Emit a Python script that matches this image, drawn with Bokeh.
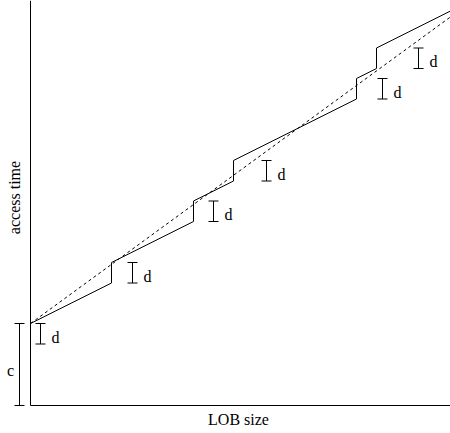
import numpy as np
from bokeh.plotting import figure
from bokeh.models import Range1d, ColumnDataSource, Whisker, TeeHead, FixedTicker
from bokeh.core.properties import value
from bokeh.embed import file_html
from bokeh.resources import INLINE

# ---- data (arbitrary units) ----
lob_max = 420.0          # largest LOB size shown
c = 82.0                 # fixed cost (intercept)
d = 20.5                 # step height
slope_solid = 0.5        # slope of the stepped (solid) curve
slope_dashed = 0.73      # slope of the linear (dashed) approximation
steps = [0, 81, 163, 203, 326, 346]          # LOB sizes where a step of d occurs
d_marker_x = [10, 102, 183, 236, 352, 388]   # where the "d" brackets are drawn
x_label = "LOB size"
y_label = "access time"

# ---- derived geometry ----
def before_step(k):
    return (c - d) + slope_solid * steps[k] + d * k

sx, sy = [0.0], [c]
for k in range(1, len(steps)):
    b = before_step(k)
    sx += [steps[k], steps[k]]
    sy += [b, b + d]
sx.append(lob_max)
sy.append((c - d) + slope_solid * lob_max + d * len(steps))

dx = [0.0, lob_max]
dy = [c, c + slope_dashed * lob_max]

lows = [before_step(k) for k in range(len(steps))]
highs = [v + d for v in lows]

FONT = value("Liberation Serif")

p = figure(width=450, height=433, x_range=Range1d(-30, lob_max), y_range=Range1d(-28, 405),
           output_backend="svg", toolbar_location=None, min_border=0,
           outline_line_color=None, background_fill_color="white")
p.grid.visible = False

for ax, b in ((p.xaxis, (0, lob_max)), (p.yaxis, (0, 405))):
    ax.fixed_location = 0
    ax.bounds = b
    ax.ticker = FixedTicker(ticks=[])
    ax.major_tick_out = 0
    ax.major_tick_in = 0
    ax.minor_tick_out = 0
    ax.minor_tick_in = 0
    ax.major_label_standoff = 0
    ax.axis_line_color = "black"
    ax.axis_line_width = 1

# stepped cost curve and linear approximation
p.line(sx, sy, line_color="black", line_width=1)
p.line(dx, dy, line_color="black", line_width=1, line_dash="3 3")

# d brackets
src = ColumnDataSource(dict(x=d_marker_x, lo=lows, hi=highs,
                            ty=[l + 0.33 * d for l in lows],
                            tx=[x + 11 for x in d_marker_x],
                            t=["d"] * len(d_marker_x)))
p.add_layout(Whisker(base="x", lower="lo", upper="hi", source=src, dimension="height",
                     line_color="black", line_width=1,
                     lower_head=TeeHead(size=10, line_color="black", line_width=1),
                     upper_head=TeeHead(size=10, line_color="black", line_width=1)))
p.text(x="tx", y="ty", text="t", source=src, text_font=FONT, text_font_size="16px",
       text_align="left", text_baseline="alphabetic", text_color="black")

# c bracket
csrc = ColumnDataSource(dict(x=[-11], lo=[0], hi=[c]))
p.add_layout(Whisker(base="x", lower="lo", upper="hi", source=csrc, dimension="height",
                     line_color="black", line_width=1,
                     lower_head=TeeHead(size=10, line_color="black", line_width=1),
                     upper_head=TeeHead(size=10, line_color="black", line_width=1)))
p.text(x=[-20], y=[c / 2 - 6], text=["c"], text_font=FONT, text_font_size="16px",
       text_align="center", text_baseline="alphabetic", text_color="black")

# axis labels
p.text(x=[lob_max / 2 - 2], y=[-14], text=[x_label], text_font=FONT, text_font_size="16px",
       text_align="center", text_baseline="alphabetic", text_color="black")
p.text(x=[-16], y=[208], text=[y_label], angle=np.pi / 2, text_font=FONT, text_font_size="16px",
       text_align="center", text_baseline="alphabetic", text_color="black")

open("out.html", "w").write(file_html(p, INLINE))
